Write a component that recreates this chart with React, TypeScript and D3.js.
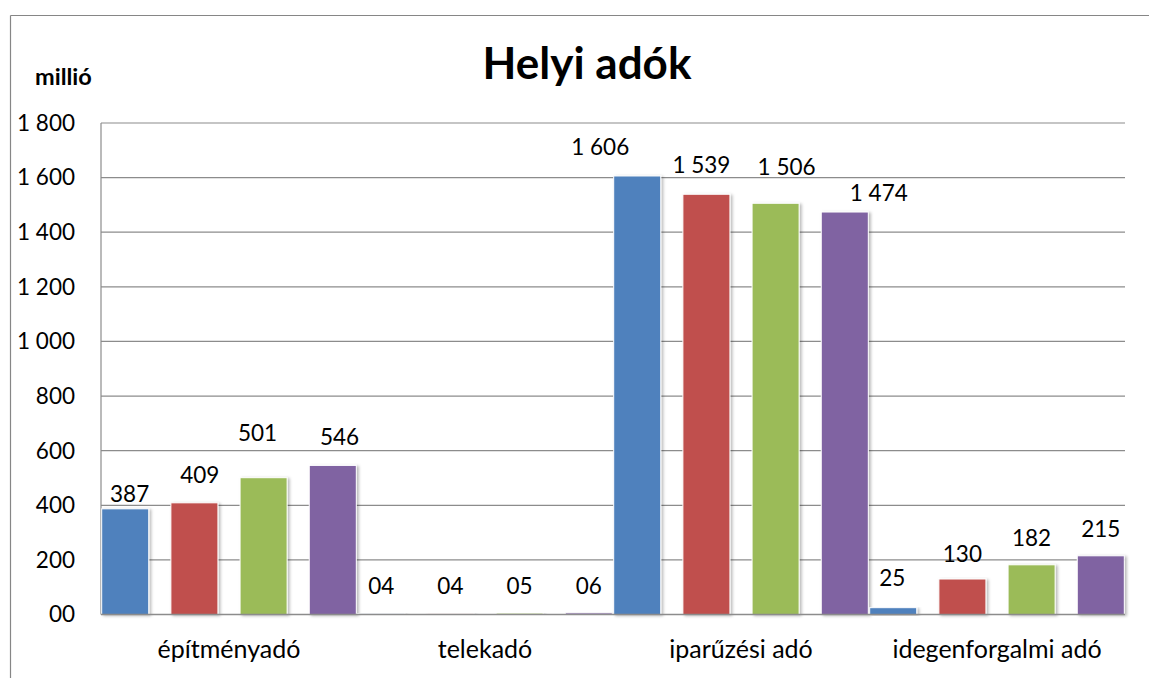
import React from "react";
import * as d3 from "d3";

const categories = ["építményadó", "telekadó", "iparűzési adó", "idegenforgalmi adó"];
const seriesKeys = ["s1", "s2", "s3", "s4"];
const series1 = [387, 4, 1606, 25];
const series2 = [409, 4, 1539, 130];
const series3 = [501, 5, 1506, 182];
const series4 = [546, 6, 1474, 215];
const seriesColors = ["#4F81BD", "#C0504D", "#9BBB59", "#8064A2"];
const yTicks = [0, 200, 400, 600, 800, 1000, 1200, 1400, 1600, 1800];
const title = "Helyi adók";
const unitLabel = "millió";
// manual label nudges [dx, dy] per series, per category (as in the original)
const labelNudges: [number, number][][] = [
  [[4.4, 12], [0, 0], [-37, -2.4], [-1, -3]],
  [[5.3, -1], [0, 0], [-5, -2.4], [0, 2]],
  [[-6, -17.6], [0, 0], [11, -9.7], [0, 0]],
  [[6.7, -1], [0, 0], [34, 8], [0, 0]],
];

const seriesValues = [series1, series2, series3, series4];

const W = 1149;
const H = 678;
const plot = { left: 101, right: 1125, top: 123, bottom: 614.5 };
const FONT = "Lato, 'Open Sans', sans-serif";

const locale = d3.formatLocale({
  decimal: ",",
  thousands: "\u00a0",
  grouping: [3],
  currency: ["", ""],
});
const fmt = locale.format("02,d");

export default function App() {
  const x0 = d3.scaleBand<string>().domain(categories).range([plot.left, plot.right]).padding(0);
  const x1 = d3
    .scaleBand<string>()
    .domain(seriesKeys)
    .range([0, x0.bandwidth()])
    .paddingInner(0.32)
    .paddingOuter(0.01);
  const y = d3.scaleLinear().domain([0, 1800]).range([plot.bottom, plot.top]);

  return (
    <div style={{ position: "absolute", left: 0, top: 0 }}>
      <svg width={W} height={H} style={{ display: "block" }}>
        <defs>
          <filter id="sh" x="-20%" y="-5%" width="150%" height="115%">
            <feDropShadow dx="2" dy="1" stdDeviation="1.6" floodColor="#000" floodOpacity="0.28" />
          </filter>
        </defs>
        <rect x={0} y={0} width={W} height={H} fill="#fff" />
        {/* outer frame */}
        <line x1={10.5} y1={15.5} x2={W} y2={15.5} stroke="#868686" strokeWidth={1.2} />
        <line x1={10.5} y1={15.5} x2={10.5} y2={H} stroke="#868686" strokeWidth={1.2} />

        {/* gridlines */}
        {yTicks.map((t) => (
          <line
            key={"g" + t}
            x1={plot.left}
            x2={plot.right}
            y1={y(t)}
            y2={y(t)}
            stroke="#8c8c8c"
            strokeWidth={1.2}
          />
        ))}
        <line x1={plot.left} x2={plot.left} y1={plot.top} y2={plot.bottom} stroke="#8c8c8c" strokeWidth={1.2} />

        {/* y tick labels */}
        {yTicks.map((t) => (
          <text
            key={"t" + t}
            x={75}
            y={y(t)}
            dy="0.35em"
            textAnchor="end"
            fontFamily={FONT}
            fontSize={22.5}
            fill="#000"
          >
            {fmt(t)}
          </text>
        ))}

        {/* bars */}
        {categories.map((c, ci) => (
          <g key={c} transform={`translate(${x0(c)},0)`}>
            {seriesKeys.map((k, si) => {
              const v = seriesValues[si][ci];
              return (
                <rect
                  key={k}
                  x={x1(k)}
                  y={y(v)}
                  width={x1.bandwidth()}
                  height={plot.bottom - y(v)}
                  fill={seriesColors[si]}
                  stroke="#fff"
                  strokeWidth={1}
                  filter="url(#sh)"
                />
              );
            })}
          </g>
        ))}

        <line x1={plot.left} x2={plot.right} y1={plot.bottom} y2={plot.bottom} stroke="#8c8c8c" strokeWidth={1.6} />

        {/* value labels */}
        {categories.map((c, ci) =>
          seriesKeys.map((k, si) => {
            const v = seriesValues[si][ci];
            const [dx, dy] = labelNudges[si][ci];
            return (
              <text
                key={c + k}
                x={(x0(c) as number) + (x1(k) as number) + x1.bandwidth() / 2 + dx}
                y={y(v) - 19 + dy}
                textAnchor="middle"
                fontFamily={FONT}
                fontSize={22.5}
                fill="#000"
              >
                {fmt(v)}
              </text>
            );
          })
        )}

        {/* category labels */}
        {categories.map((c) => (
          <text
            key={"c" + c}
            x={(x0(c) as number) + x0.bandwidth() / 2}
            y={658}
            textAnchor="middle"
            fontFamily={FONT}
            fontSize={25}
            fill="#000"
          >
            {c}
          </text>
        ))}

        {/* title */}
        <text x={587} y={79} textAnchor="middle" fontFamily={FONT} fontWeight="bold" fontSize={44} fill="#000">
          {title}
        </text>
        <text x={35} y={85} fontFamily={FONT} fontWeight="bold" fontSize={23.5} fill="#000">
          {unitLabel}
        </text>
      </svg>
    </div>
  );
}
